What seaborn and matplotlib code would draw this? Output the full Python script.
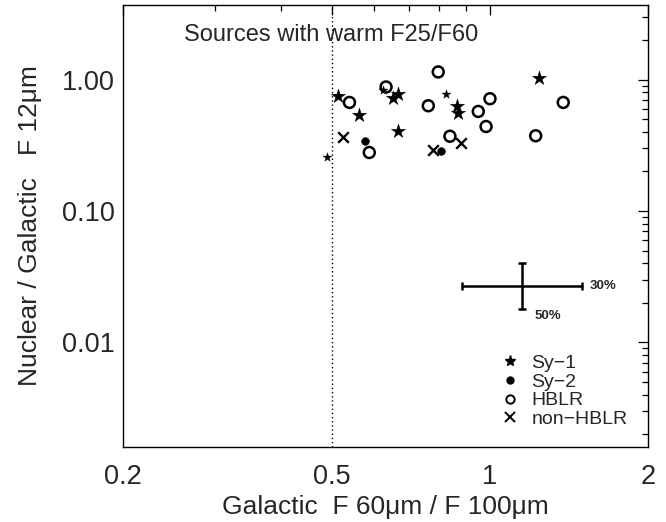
import numpy as np
import pandas as pd
import matplotlib
matplotlib.use('Agg')
import matplotlib.pyplot as plt
from matplotlib.ticker import FixedLocator, FixedFormatter, LogLocator, NullFormatter
from matplotlib.lines import Line2D
import seaborn as sns

# Galactic F60/F100 (x) vs nuclear/galactic F12 (y)
sy1_x = [0.514, 0.563, 0.653, 0.667, 0.667, 0.864, 0.870, 1.241]
sy1_y = [0.746, 0.541, 0.725, 0.778, 0.408, 0.625, 0.557, 1.03]
sy1_small_x = [0.489, 0.625, 0.824]
sy1_small_y = [0.26, 0.839, 0.778]
sy2_x = [0.578, 0.806]
sy2_y = [0.342, 0.284]
hblr_x = [0.540, 0.589, 0.634, 0.797, 0.763, 0.839, 0.950, 1.0, 0.983, 1.222, 1.379]
hblr_y = [0.671, 0.279, 0.880, 1.145, 0.633, 0.371, 0.573, 0.716, 0.440, 0.374, 0.671]
nonhblr_x = [0.524, 0.780, 0.880]
nonhblr_y = [0.363, 0.292, 0.329]

# typical error bar
err_x, err_y = 1.15, 0.027
err_fx, err_fy = 1.3, 1.5
err_labels = ['30%', '50%']

sns.set_theme(style='white')
plt.rcParams['font.family'] = ['Liberation Sans', 'DejaVu Sans']

fig = plt.figure(figsize=(6.66, 5.22), dpi=100)
ax = fig.add_axes([0.1847, 0.1437, 0.7883, 0.8467])

df_sy1 = pd.DataFrame({'x': sy1_x, 'y': sy1_y})
df_sy1s = pd.DataFrame({'x': sy1_small_x, 'y': sy1_small_y})
df_sy2 = pd.DataFrame({'x': sy2_x, 'y': sy2_y})
df_h = pd.DataFrame({'x': hblr_x, 'y': hblr_y})
df_n = pd.DataFrame({'x': nonhblr_x, 'y': nonhblr_y})

sns.scatterplot(data=df_sy1, x='x', y='y', marker='*', s=115, color='black',
                edgecolor='black', linewidth=0.3, ax=ax, zorder=3)
sns.scatterplot(data=df_sy1s, x='x', y='y', marker='*', s=45, color='black',
                edgecolor='black', linewidth=0.3, ax=ax, zorder=3)
sns.scatterplot(data=df_sy2, x='x', y='y', marker='o', s=30, color='black',
                edgecolor='black', linewidth=0.5, ax=ax, zorder=3)
ax.scatter(df_h['x'], df_h['y'], marker='o', s=62, facecolors='none',
           edgecolors='black', linewidths=1.8, zorder=3)
ax.scatter(df_n['x'], df_n['y'], marker='x', s=58, color='black',
           linewidths=1.7, zorder=3)

ax.axvline(0.5, color='black', ls=(0, (1, 2)), lw=1.0)

ax.errorbar([err_x], [err_y],
            xerr=[[err_x - err_x / err_fx], [err_x * err_fx - err_x]],
            yerr=[[err_y - err_y / err_fy], [err_y * err_fy - err_y]],
            fmt='none', ecolor='black', elinewidth=1.8, capsize=3.2, capthick=1.8)
ax.annotate(err_labels[0], xy=(err_x * err_fx, err_y), xytext=(6, 0),
            textcoords='offset points', va='center', ha='left',
            fontsize=9.5, fontweight='bold')
ax.annotate(err_labels[1], xy=(err_x, err_y / err_fy), xytext=(9.5, -5),
            textcoords='offset points', va='center', ha='left',
            fontsize=9.5, fontweight='bold')

ax.set_xscale('log')
ax.set_yscale('log')
ax.set_xlim(0.2, 2)
ax.set_ylim(0.0016, 3.7)

ax.xaxis.set_major_locator(FixedLocator([0.2, 0.5, 1, 2]))
ax.xaxis.set_major_formatter(FixedFormatter(['0.2', '0.5', '1', '2']))
ax.xaxis.set_minor_locator(FixedLocator([0.3, 0.4, 0.6, 0.7, 0.8, 0.9]))
ax.xaxis.set_minor_formatter(NullFormatter())
ax.yaxis.set_major_locator(FixedLocator([0.01, 0.1, 1]))
ax.yaxis.set_major_formatter(FixedFormatter(['0.01', '0.10', '1.00']))
ax.yaxis.set_minor_locator(LogLocator(base=10, subs=np.arange(2, 10)))
ax.yaxis.set_minor_formatter(NullFormatter())

ax.tick_params(which='both', direction='in', top=True, right=True,
               color='black', width=0.9)
ax.tick_params(which='major', length=7, labelsize=19.5)
ax.tick_params(which='minor', length=4)
ax.tick_params(axis='x', which='major', pad=12.5)
ax.tick_params(axis='y', which='major', pad=6)

for sp in ax.spines.values():
    sp.set_color('black')
    sp.set_linewidth(1.0)

ax.set_xlabel('Galactic  F 60\u03bcm / F 100\u03bcm', fontsize=19, labelpad=3)
ax.set_ylabel('Nuclear / Galactic   F 12\u03bcm', fontsize=19, labelpad=14)
ax.text(0.396, 0.932, 'Sources with warm F25/F60', transform=ax.transAxes,
        ha='center', va='center', fontsize=17)

handles = [
    Line2D([], [], marker='*', ls='none', color='black', markersize=8),
    Line2D([], [], marker='o', ls='none', color='black', markersize=5),
    Line2D([], [], marker='o', ls='none', markerfacecolor='none',
           markeredgecolor='black', markeredgewidth=1.4, markersize=6),
    Line2D([], [], marker='x', ls='none', color='black', markeredgewidth=1.4,
           markersize=7),
]
labels = ['Sy\u22121', 'Sy\u22122', 'HBLR', 'non\u2212HBLR']
ax.legend(handles, labels, loc='lower left', bbox_to_anchor=(0.719, 0.043),
          frameon=False, fontsize=14, handlelength=1.0, handletextpad=0.6,
          borderpad=0, borderaxespad=0, labelspacing=0.05)

fig.savefig('out.png', dpi=100)
